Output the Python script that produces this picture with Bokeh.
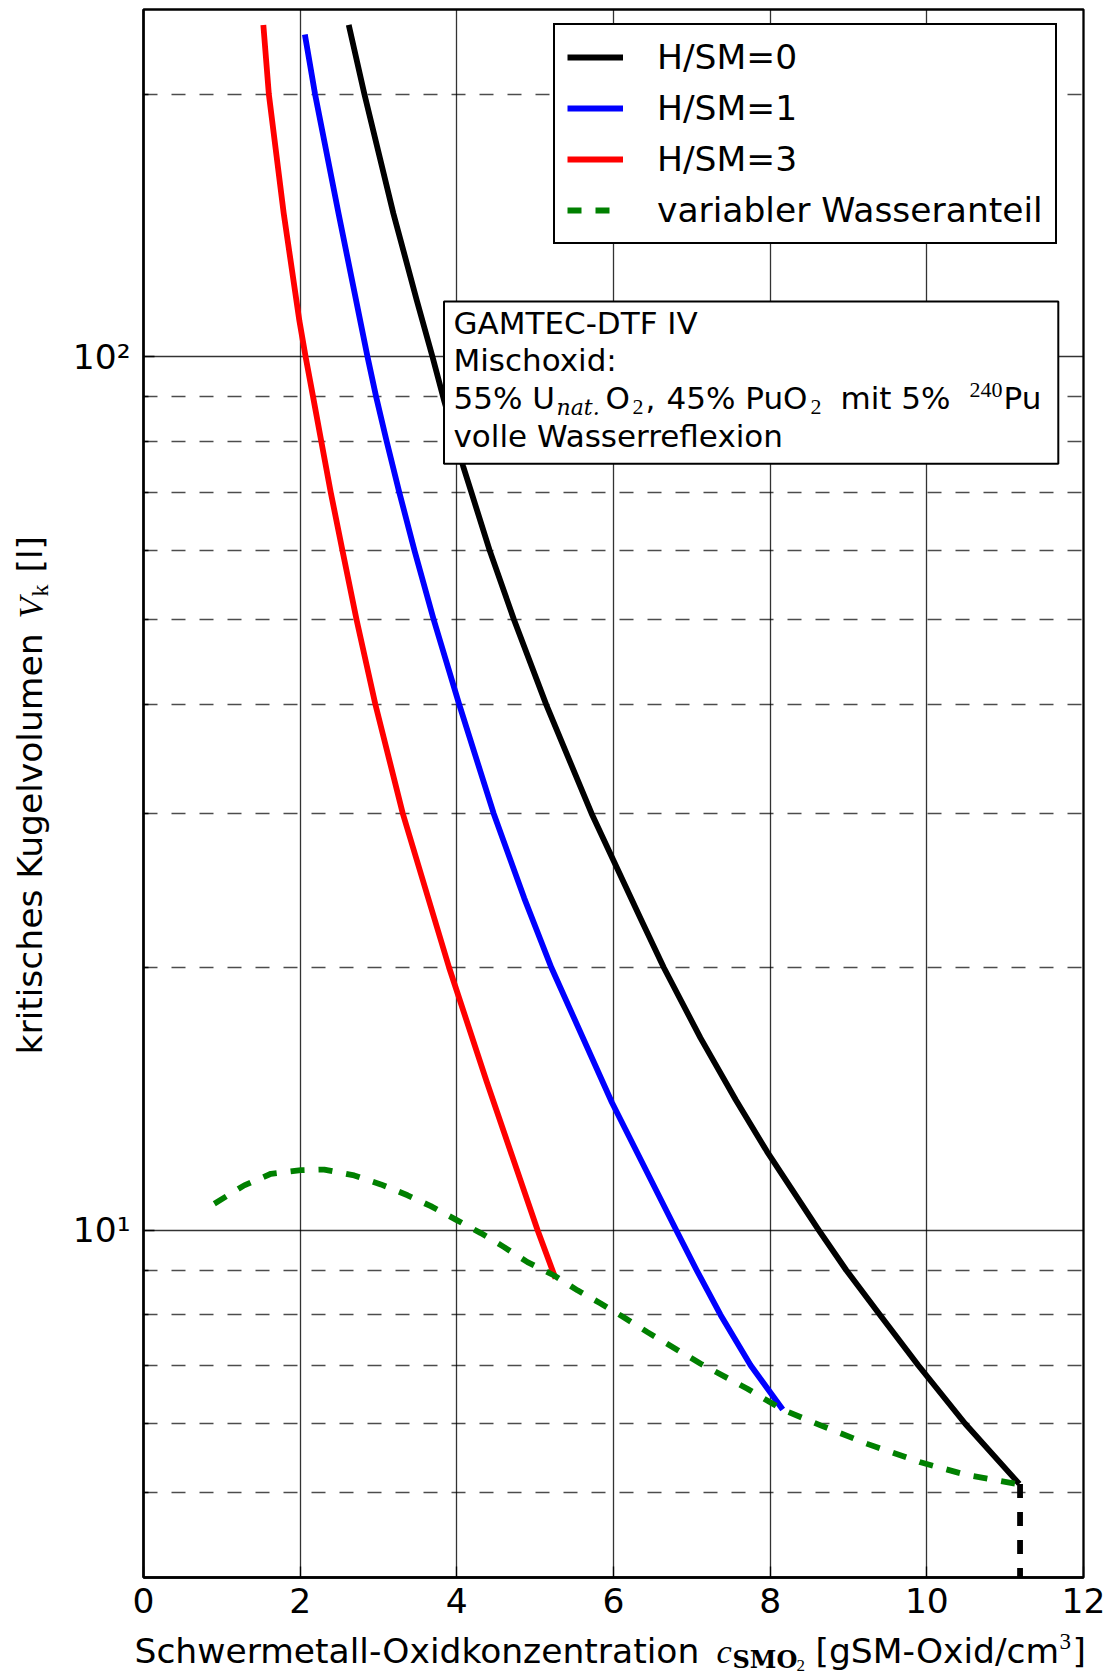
import numpy as np
from bokeh.plotting import figure
from bokeh.layouts import row, column
from bokeh.models import Range1d, FixedTicker, Label, BoxAnnotation, Legend, LegendItem
from bokeh.embed import file_html
from bokeh.resources import INLINE

# ---------------- data ----------------
hsm0_x = [2.62, 2.82, 3.19, 3.49, 3.69, 3.84, 4.08, 4.185, 4.42, 4.73, 5.14, 5.72,
          6.00, 6.35, 6.64, 7.11, 7.56, 7.96, 8.62, 8.97, 9.40, 9.89, 10.49, 11.18]
hsm0_v = [240, 200, 146, 116, 100, 89, 75, 70, 60, 50, 40, 30,
          26.5, 22.7, 20, 16.6, 14.1, 12.3, 10, 9, 8, 7, 6, 5.12]

hsm1_x = [2.06, 2.19, 2.49, 2.86, 2.97, 3.105, 3.265, 3.46, 3.705, 4.03, 4.47, 4.86,
          5.205, 5.98, 6.80, 7.06, 7.365, 7.75, 8.16]
hsm1_v = [234, 200, 146, 100, 90, 80, 70, 60, 50, 40, 30, 24,
          20, 14, 10, 9, 8, 7, 6.23]

hsm3_x = [1.53, 1.60, 1.79, 1.99, 2.07, 2.165, 2.27, 2.39, 2.54, 2.72, 2.96, 3.31,
          3.90, 4.38, 5.03, 5.26]
hsm3_v = [240, 200, 146, 110, 100, 90, 80, 70, 60, 50, 40, 30,
          20, 14.8, 10, 8.8]

water_x = [0.904, 1.286, 1.627, 2.01, 2.307, 2.69, 3.03, 3.371, 3.668, 3.987, 4.306,
           4.604, 4.902, 5.242, 5.54, 5.837, 6.135, 6.433, 6.816, 7.113, 7.709, 8.155,
           8.644, 9.24, 9.92, 10.516, 11.15]
water_v = [10.72, 11.25, 11.60, 11.71, 11.73, 11.55, 11.28, 10.96, 10.65, 10.28, 9.92,
           9.56, 9.19, 8.87, 8.53, 8.24, 7.94, 7.64, 7.29, 7.03, 6.58, 6.23,
           5.975, 5.69, 5.42, 5.24, 5.12]

limit_x = [11.19, 11.19]
limit_v = [5.12, 4.0]

x_ticks = [0, 2, 4, 6, 8, 10, 12]
y_major_ticks = [10, 100]
y_minor_ticks = [5, 6, 7, 8, 9, 20, 30, 40, 50, 60, 70, 80, 90, 200]
y_tick_labels = {10: "10\u00b9", 100: "10\u00b2"}

legend_labels = ["H/SM=0", "H/SM=1", "H/SM=3", "variabler Wasseranteil"]

SANS = "DejaVu Sans"
SERIF = "Liberation Serif"
SERIF2 = "DejaVu Serif"
FS = "34.5px"
KB = 0.37   # correction: Bokeh's label baseline sits lower than the nominal one

# ---------------- layout geometry (page pixels) ----------------
YLAB_W = 60
MAIN_W, MAIN_H = 1049, 1629
XLAB_H = 46
FL, FB = 143, 1577   # frame left / bottom in page pixels


def sx(px):
    return px - FL


def sy(py):
    return FB - py


def no_align(fig):
    try:
        fig.frame_align = False
    except Exception:
        pass


p = figure(width=MAIN_W, height=MAIN_H, x_range=Range1d(0, 12), y_range=Range1d(4, 250),
           y_axis_type="log", output_backend="svg", toolbar_location=None,
           min_border_left=FL - YLAB_W, min_border_right=26, min_border_top=9,
           min_border_bottom=MAIN_H - FB)
no_align(p)
p.background_fill_color = "white"
p.border_fill_color = "white"
p.outline_line_color = "black"
p.outline_line_width = 2.3

xt = FixedTicker(ticks=x_ticks)
yt = FixedTicker(ticks=y_major_ticks, minor_ticks=y_minor_ticks)
p.xaxis.ticker = xt
p.yaxis.ticker = yt
p.xgrid.ticker = xt
p.ygrid.ticker = yt
p.yaxis.major_label_overrides = y_tick_labels

for ax in (p.xaxis[0], p.yaxis[0]):
    ax.axis_line_color = "black"
    ax.axis_line_width = 2.3
    ax.major_tick_in = 11
    ax.major_tick_out = 0
    ax.minor_tick_in = 5
    ax.minor_tick_out = 0
    ax.major_tick_line_color = "black"
    ax.major_tick_line_width = 1.3
    ax.minor_tick_line_color = "black"
    ax.minor_tick_line_width = 1.3
    ax.major_label_text_font = SANS
    ax.major_label_text_font_size = FS
    ax.major_label_text_color = "black"
    ax.axis_label = None
p.xaxis.minor_tick_line_color = None
p.xaxis.major_label_standoff = 10
p.yaxis.major_label_standoff = 13

for g in (p.xgrid[0], p.ygrid[0]):
    g.grid_line_color = "black"
    g.grid_line_width = 1.3
    g.grid_line_alpha = 0.8
p.ygrid.minor_grid_line_color = "black"
p.ygrid.minor_grid_line_width = 1.3
p.ygrid.minor_grid_line_alpha = 0.7
p.ygrid.minor_grid_line_dash = "14 14"

LW = 5.8
r0 = p.line(hsm0_x, hsm0_v, line_color="black", line_width=LW, line_join="round")
r1 = p.line(hsm1_x, hsm1_v, line_color="#0000ff", line_width=LW, line_join="round")
r3 = p.line(hsm3_x, hsm3_v, line_color="#ff0000", line_width=LW, line_join="round")
rw = p.line(water_x, water_v, line_color="#008000", line_width=LW, line_dash="14 14")
p.line(limit_x, limit_v, line_color="black", line_width=LW, line_dash="14 14")

legend = Legend(items=[LegendItem(label=legend_labels[0], renderers=[r0]),
                       LegendItem(label=legend_labels[1], renderers=[r1]),
                       LegendItem(label=legend_labels[2], renderers=[r3]),
                       LegendItem(label=legend_labels[3], renderers=[rw])],
                location=(sx(553), sy(244)))
legend.label_text_font = SANS
legend.label_text_font_size = FS
legend.label_text_color = "black"
legend.glyph_width = 56
legend.glyph_height = 40
legend.label_height = 40
legend.label_standoff = 34
legend.padding = 12
legend.spacing = 11
legend.margin = 0
legend.border_line_color = "black"
legend.border_line_alpha = 1.0
legend.border_line_width = 2
legend.background_fill_color = "white"
legend.background_fill_alpha = 1.0
p.add_layout(legend)

# ---------------- info box ----------------
box = BoxAnnotation(left=sx(443.5), right=sx(1057.8), top=sy(301), bottom=sy(463.3),
                    left_units="screen", right_units="screen",
                    top_units="screen", bottom_units="screen",
                    fill_color="white", fill_alpha=1.0,
                    line_color="black", line_width=2, line_alpha=1.0)
p.add_layout(box)


def mk(fig, x, y, text, size, font, style, angle, units):
    lab = Label(x=x, y=y, x_units=units, y_units=units, text=text,
                text_font=font, text_font_size=size, text_font_style=style,
                text_color="black", text_align="left", text_baseline="alphabetic",
                angle=angle)
    fig.add_layout(lab)


def px_of(size):
    return float(size.replace("px", ""))


def btxt(px, py, text, size, font=SANS, style="normal"):
    """text inside the plot frame; (px, py) = page pixel of the baseline origin"""
    d = KB * px_of(size)
    mk(p, sx(px), sy(py - d), text, size, font, style, 0, "screen")


BFS = "31px"
SUB = "22px"
btxt(453, 334.3, "GAMTEC-DTF IV", BFS)
btxt(453, 371, "Mischoxid:", BFS)
L3 = 409
btxt(453, L3, "55% U", BFS)
btxt(556, L3 + 6, "nat.", SUB, SERIF2, "italic")
btxt(605, L3, "O", BFS)
btxt(632, L3 + 6, "2", SUB, SERIF)
btxt(645, L3, ",", BFS)
btxt(666, L3, "45% PuO", BFS)
btxt(810, L3 + 6, "2", SUB, SERIF)
btxt(840, L3, "mit 5%", BFS)
btxt(969, L3 - 11, "240", SUB, SERIF)
btxt(1003, L3, "Pu", BFS)
btxt(453, 446.7, "volle Wasserreflexion", BFS)

# ---------------- axis label strips (page-pixel data coordinates) ----------------
ylab = figure(width=YLAB_W, height=MAIN_H, x_range=Range1d(0, YLAB_W),
              y_range=Range1d(MAIN_H, 0), x_axis_location=None, y_axis_location=None,
              output_backend="svg", toolbar_location=None, min_border=0)
xlab = figure(width=MAIN_W, height=XLAB_H, x_range=Range1d(YLAB_W, YLAB_W + MAIN_W),
              y_range=Range1d(MAIN_H + XLAB_H, MAIN_H), x_axis_location=None,
              y_axis_location=None, output_backend="svg", toolbar_location=None,
              min_border=0)
for f in (ylab, xlab):
    no_align(f)
    f.outline_line_color = None
    f.background_fill_color = "white"
    f.border_fill_color = "white"
    f.grid.visible = False


def xtxt(px, py, text, size, font=SANS, style="normal"):
    d = KB * px_of(size)
    mk(xlab, px, py - d, text, size, font, style, 0, "data")


def ytxt(px, py, text, size, font=SANS, style="normal"):
    d = KB * px_of(size)
    mk(ylab, px - d, py, text, size, font, style, np.pi / 2, "data")


XB = 1663
xtxt(134, XB, "Schwermetall-Oxidkonzentration", FS)
xtxt(716, XB, "c", FS, SERIF, "italic")
xtxt(732, XB + 5, "SMO", "24px", SERIF2, "bold")
xtxt(796, XB + 8, "2", "17px", SERIF)
xtxt(815, XB, "[gSM-Oxid/cm", FS)
xtxt(1059, XB - 13, "3", "23px", SERIF)
xtxt(1072, XB, "]", FS)

YB = 42
ytxt(YB, 1054, "kritisches Kugelvolumen", FS)
ytxt(YB, 618, "V", FS, SERIF, "italic")
ytxt(YB + 6, 596, "k", "24px", SERIF)
ytxt(YB, 572, "[l]", FS)

layout = row(ylab, column(p, xlab, spacing=0), spacing=0)

open("out.html", "w").write(file_html(layout, INLINE))
